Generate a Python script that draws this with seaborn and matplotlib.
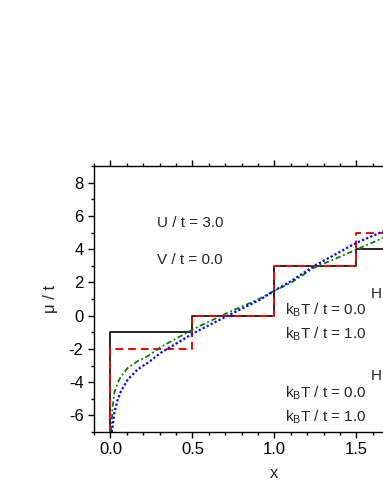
import numpy as np
import pandas as pd
import matplotlib
matplotlib.use("Agg")
import matplotlib.pyplot as plt
import matplotlib.ticker as tick
import seaborn as sns

sns.set_style("ticks")
plt.rcParams['font.family'] = ['Liberation Sans', 'DejaVu Sans']
plt.rcParams['mathtext.fontset'] = 'custom'
plt.rcParams['mathtext.rm'] = 'Liberation Sans'
plt.rcParams['mathtext.it'] = 'Liberation Sans'
plt.rcParams['axes.unicode_minus'] = False

# step curves (kBT/t = 0)
x_step = [0.0, 0.0, 0.5, 1.0, 1.5, 2.1]
mu_black = [-7.0, -1.0, 0.0, 3.0, 4.0, 4.0]
mu_red = [-7.0, -2.0, 0.0, 3.0, 5.0, 5.0]

# smooth curves (kBT/t = 1)
x_green = [0.004, 0.014, 0.024, 0.045, 0.065, 0.106, 0.166, 0.227, 0.305, 0.508, 0.71, 0.9,
           1.0, 1.1, 1.24, 1.5, 1.65, 1.8, 2.0]
mu_green = [-7.0, -5.44, -4.64, -4.04, -3.64, -3.14, -2.74, -2.44, -1.9, -0.8, 0.15, 0.97,
            1.5, 1.97, 2.87, 3.97, 4.62, 5.3, 6.2]
x_blue = [0.008, 0.014, 0.024, 0.045, 0.065, 0.106, 0.166, 0.227, 0.305, 0.508, 0.71, 0.915,
          1.0, 1.1, 1.24, 1.5, 1.65, 1.8, 2.0]
mu_blue = [-7.0, -6.64, -5.84, -5.04, -4.54, -3.84, -3.24, -2.84, -2.25, -1.05, -0.03, 0.97,
           1.5, 2.07, 2.97, 4.38, 5.01, 5.7, 6.6]

fig = plt.figure(figsize=(3.83, 4.95), dpi=100)
ax = fig.add_axes([94/383, 63/495, 2.2*164/383, 266/495])

sns.lineplot(x=x_step, y=mu_black, sort=False, estimator=None, drawstyle='steps-post',
             color='black', linewidth=1.2, ax=ax)
sns.lineplot(x=x_step, y=mu_red, sort=False, estimator=None, drawstyle='steps-post',
             color='#ff0000', linewidth=1.4, linestyle=(0, (4, 2.5)), ax=ax)
sns.lineplot(x=x_green, y=mu_green, sort=False, estimator=None,
             color='#008000', linewidth=1.3, linestyle=(0, (3, 1.5, 1, 1.5)), ax=ax)
sns.lineplot(x=x_blue, y=mu_blue, sort=False, estimator=None,
             color='#0000ff', linewidth=1.6, linestyle=(0, (1, 1)), ax=ax)

ax.set_xlim(-0.1, 2.1)
ax.set_ylim(-7, 9)
ax.xaxis.set_major_locator(tick.MultipleLocator(0.5))
ax.xaxis.set_minor_locator(tick.MultipleLocator(0.1))
ax.yaxis.set_major_locator(tick.MultipleLocator(2))
ax.yaxis.set_minor_locator(tick.MultipleLocator(1))
# labels past the cropped right edge are left empty
ax.xaxis.set_major_formatter(tick.FuncFormatter(lambda v, p: '%.1f' % v if v < 1.6 else ''))
ax.tick_params(which='both', direction='out', top=True, right=True, width=1, labelsize=12, colors='black')
ax.tick_params(which='major', length=4)
ax.tick_params(which='minor', length=2.2)
for s in ax.spines.values():
    s.set_visible(True)
    s.set_linewidth(1.0)
    s.set_color('black')

ax.set_xlabel('x', fontsize=12, labelpad=6)
ax.set_ylabel('μ / t', fontsize=12, labelpad=8)

fs = 11
ax.text(0.285, 5.31, 'U / t = 3.0', fontsize=fs, va='baseline')
ax.text(0.285, 3.11, 'V / t = 0.0', fontsize=fs, va='baseline')
ax.text(1.585, 1.07, 'H', fontsize=fs, va='baseline')
ax.text(1.585, -3.9, 'H', fontsize=fs, va='baseline')
ax.text(1.067, 0.07, r'k$_\mathrm{B}$T / t = 0.0', fontsize=fs, va='baseline')
ax.text(1.067, -1.39, r'k$_\mathrm{B}$T / t = 1.0', fontsize=fs, va='baseline')
ax.text(1.067, -4.94, r'k$_\mathrm{B}$T / t = 0.0', fontsize=fs, va='baseline')
ax.text(1.067, -6.38, r'k$_\mathrm{B}$T / t = 1.0', fontsize=fs, va='baseline')

fig.savefig('out.png', dpi=100)
